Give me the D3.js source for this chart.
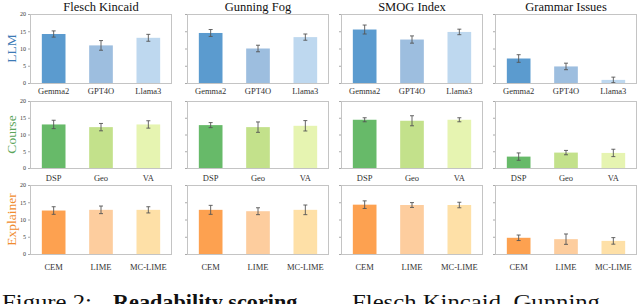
<!DOCTYPE html>
<html>
<head>
<meta charset="utf-8">
<script src="https://cdn.jsdelivr.net/npm/d3@7"></script>
<style>
  html, body { margin: 0; padding: 0; background: #fff; }
  svg { display: block; }
</style>
</head>
<body>
<div id="chart"></div>
<script>
// Readability scores: 3 groups (rows) x 4 metrics (columns), mean ± error
const metrics = ["Flesch Kincaid", "Gunning Fog", "SMOG Index", "Grammar Issues"]
const groups = ["LLM", "Course", "Explainer"]
const groupCategories = [
  ["Gemma2", "GPT4O", "Llama3"],
  ["DSP", "Geo", "VA"],
  ["CEM", "LIME", "MC-LIME"],
]
// values[row][metric][category]
const values = [
  [[14.2, 10.9, 13.1], [14.5, 10.0, 13.3], [15.5, 12.6, 14.8], [7.1, 4.8, 0.9]],
  [[13.0, 12.2, 13.0], [12.8, 12.2, 12.6], [14.4, 14.1, 14.4], [3.4, 4.6, 4.5]],
  [[12.6, 12.8, 12.8], [12.8, 12.4, 12.8], [14.3, 14.2, 14.2], [4.7, 4.3, 3.8]],
]
const errors = [
  [[0.9, 1.4, 1.0], [1.0, 0.95, 0.9], [1.3, 1.05, 0.8], [1.1, 0.95, 0.8]],
  [[1.25, 1.1, 1.1], [0.75, 1.55, 1.55], [0.6, 1.5, 0.6], [1.1, 0.65, 1.1]],
  [[1.1, 1.1, 0.9], [1.3, 1.0, 1.4], [1.1, 0.7, 0.8], [0.8, 1.5, 0.95]],
]
const yTicks = [0, 5, 10, 15, 20]
const groupColors = [
  ["#5b9bcf", "#9dbedf", "#bed8ef"],
  ["#67ba69", "#c3e18b", "#e6f4b1"],
  ["#fda150", "#fdcd9e", "#fee0a7"],
]
const groupLabelColors = ["#3d7ab5", "#5ba55b", "#f08b2e"]
const captionParts = [
  { text: "Figure 2:", bold: false, x: 2, len: 90 },
  { text: "Readability scoring.", bold: true, x: 113, len: 190 },
  { text: "Flesch Kincaid, Gunning", bold: false, x: 352, len: 248 },
]

const W = 640, H = 304
const serif = "'Liberation Serif', 'DejaVu Serif', serif"

const colLeft = [30, 187, 341, 495]
const colW = 142
const rowTop = [14, 101, 185]
const rowBottom = [83, 168, 254]
const xLabelGap = [11, 13, 16]

const svg = d3.select("#chart").append("svg")
  .attr("width", W).attr("height", H)
  .attr("viewBox", `0 0 ${W} ${H}`)

// Titres des colonnes
svg.selectAll("text.title")
  .data(metrics)
  .join("text")
  .attr("class", "title")
  .attr("x", (_, c) => colLeft[c] + colW / 2)
  .attr("y", 11)
  .attr("text-anchor", "middle")
  .attr("font-family", serif)
  .attr("font-size", 12.5)
  .attr("fill", "#111")
  .text((d) => d)

// Libellés des lignes (rotés)
svg.selectAll("text.row-label")
  .data(groups)
  .join("text")
  .attr("class", "row-label")
  .attr("transform", (_, r) =>
    `translate(16,${(rowTop[r] + rowBottom[r]) / 2}) rotate(-90)`)
  .attr("text-anchor", "middle")
  .attr("font-family", serif)
  .attr("font-size", 13.5)
  .attr("fill", (_, r) => groupLabelColors[r])
  .text((d) => d)

for (let r = 0; r < groups.length; r++) {
  const y = d3.scaleLinear().domain([0, 20]).range([rowBottom[r], rowTop[r]])
  for (let c = 0; c < metrics.length; c++) {
    const x = d3.scaleBand()
      .domain(groupCategories[r])
      .range([colLeft[c], colLeft[c] + colW])
      .paddingInner(0.5)
      .paddingOuter(0.25)

    const g = svg.append("g")
    const rows = groupCategories[r].map((cat, i) => ({
      cat, i, v: values[r][c][i], e: errors[r][c][i],
    }))

    // Bars
    g.selectAll("rect.bar")
      .data(rows)
      .join("rect")
      .attr("class", "bar")
      .attr("x", (d) => x(d.cat))
      .attr("width", x.bandwidth())
      .attr("y", (d) => y(d.v))
      .attr("height", (d) => y(0) - y(d.v))
      .attr("fill", (d) => groupColors[r][d.i])

    // Error bars
    const eb = g.selectAll("g.err").data(rows).join("g").attr("class", "err")
      .attr("stroke", "#555").attr("stroke-width", 0.9)
    eb.append("line")
      .attr("x1", (d) => x(d.cat) + x.bandwidth() / 2)
      .attr("x2", (d) => x(d.cat) + x.bandwidth() / 2)
      .attr("y1", (d) => y(Math.max(0, d.v - d.e)))
      .attr("y2", (d) => y(d.v + d.e))
    for (const sgn of [-1, 1]) {
      eb.append("line")
        .attr("x1", (d) => x(d.cat) + x.bandwidth() / 2 - 2)
        .attr("x2", (d) => x(d.cat) + x.bandwidth() / 2 + 2)
        .attr("y1", (d) => y(Math.max(0, d.v + sgn * d.e)))
        .attr("y2", (d) => y(Math.max(0, d.v + sgn * d.e)))
    }

    // Cadre
    g.append("rect")
      .attr("x", colLeft[c] + 0.5).attr("y", rowTop[r] + 0.5)
      .attr("width", colW - 1).attr("height", rowBottom[r] - rowTop[r])
      .attr("fill", "none").attr("stroke", "#c4c4c4").attr("stroke-width", 1)

    // Y ticks (labels only on first column)
    const yAxis = d3.axisLeft(y).tickValues(yTicks).tickSize(2).tickPadding(2)
      .tickFormat(c === 0 ? d3.format("d") : () => "")
    const ya = g.append("g")
      .attr("transform", `translate(${colLeft[c]},0)`)
      .call(yAxis)
    ya.select(".domain").remove()
    ya.selectAll("line").attr("stroke", "#aaa")
    ya.selectAll("text")
      .attr("font-family", serif).attr("font-size", 6).attr("fill", "#333")

    // Category labels
    g.selectAll("text.cat")
      .data(rows)
      .join("text")
      .attr("class", "cat")
      .attr("x", (d) => x(d.cat) + x.bandwidth() / 2)
      .attr("y", rowBottom[r] + xLabelGap[r])
      .attr("text-anchor", "middle")
      .attr("font-family", serif)
      .attr("font-size", 8.5)
      .attr("fill", "#333")
      .text((d) => d.cat)
  }
}

// Légende de figure (coupée en bas, comme sur l'original)
svg.selectAll("text.caption")
  .data(captionParts)
  .join("text")
  .attr("class", "caption")
  .attr("x", (d) => d.x)
  .attr("y", 309)
  .attr("font-family", serif)
  .attr("font-size", 21)
  .attr("font-weight", (d) => (d.bold ? "bold" : "normal"))
  .attr("textLength", (d) => d.len)
  .attr("lengthAdjust", "spacingAndGlyphs")
  .attr("fill", "#111")
  .text((d) => d.text)
</script>
</body>
</html>
